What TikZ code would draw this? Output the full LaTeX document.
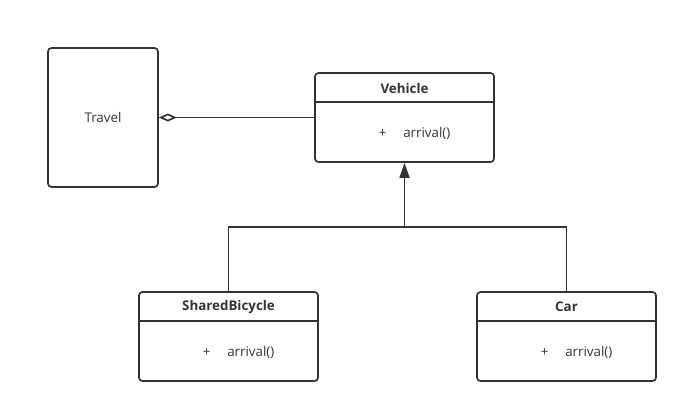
\documentclass[tikz,border=0pt]{standalone}
\usepackage{fontspec}
\setmainfont{Open Sans}
\usetikzlibrary{arrows.meta}
\definecolor{ink}{HTML}{333333}
\begin{document}
\begin{tikzpicture}[x=0.025cm, y=-0.025cm, line width=1.2pt, draw=ink, text=ink,
	every node/.style={font=\fontsize{9.5}{11}\selectfont},
	classbox/.style={draw=ink, rounded corners=2.5pt, minimum width=4.475cm, minimum height=2.225cm, inner sep=0pt},
	title/.style={font=\fontsize{9.5}{11}\selectfont\bfseries},
	op/.style={anchor=west, inner sep=0pt}]
	\useasboundingbox (0,0) rectangle (689,414);
	
	\node (travel) at (103,117.5) [draw=ink, rounded corners=2.5pt, minimum width=2.75cm, minimum height=3.475cm, inner sep=0pt]{Travel};
	
	\node (vehicle) at (404.5,117.5) [classbox]{};
	\node (bike) at (228.5,336.5) [classbox]{};
	\node (car) at (566.5,336.5) [classbox]{};
	
	\draw ([yshift=-0.75cm]vehicle.north west) -- ([yshift=-0.75cm]vehicle.north east);
	\draw ([yshift=-0.75cm]bike.north west) -- ([yshift=-0.75cm]bike.north east);
	\draw ([yshift=-0.75cm]car.north west) -- ([yshift=-0.75cm]car.north east);
	
	\node (vtitle) at (404.5,88) [title]{Vehicle};
	\node (btitle) at (228.5,307) [title]{SharedBicycle};
	\node (ctitle) at (566.5,307) [title]{Car};
	
	\node (vop) at (378,133) [op]{+\hspace{0.42cm}arrival()};
	\node (bop) at (202,352) [op]{+\hspace{0.42cm}arrival()};
	\node (cop) at (540,352) [op]{+\hspace{0.42cm}arrival()};
	
	\coordinate (join) at (404.5,227);
	
	\draw[-{Diamond[open, fill=white, length=0.45cm, width=0.2cm]}] (vehicle.west) -- (travel.east);
	\draw[-{Triangle[length=0.375cm, width=0.25cm]}] (join) -- (vehicle.south);
	\draw (bike.north) |- (join) -| (car.north);
	
\end{tikzpicture}
\end{document}
